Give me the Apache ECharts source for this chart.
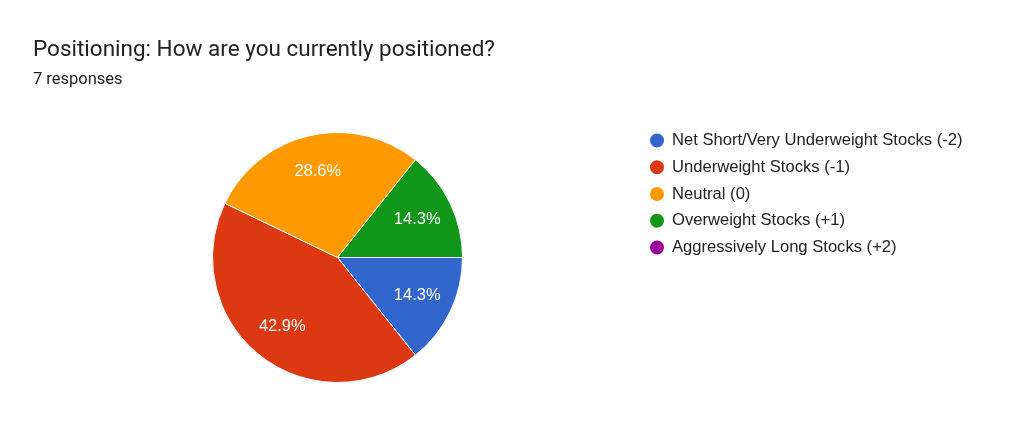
<!DOCTYPE html>
<html>
<head>
<meta charset="utf-8">
<script src="https://cdn.jsdelivr.net/npm/echarts@6/dist/echarts.min.js"></script>
<style>
html,body{margin:0;padding:0;background:#fff;}
#chart{width:1024px;height:431px;}
</style>
</head>
<body>
<div id="chart"></div>
<script>
const chartTitle = 'Positioning: How are you currently positioned?';
const responsesText = '7 responses';
const categories = [
  'Net Short/Very Underweight Stocks (-2)',
  'Underweight Stocks (-1)',
  'Neutral (0)',
  'Overweight Stocks (+1)',
  'Aggressively Long Stocks (+2)'
];
const counts = [1, 3, 2, 1, 0];
const colors = ['#3366cc', '#dc3912', '#ff9900', '#109618', '#990099'];

const total = counts.reduce((a, b) => a + b, 0);
const pieData = categories.map((name, i) => ({ name: name, value: counts[i] }));

const chart = echarts.init(document.getElementById('chart'));
chart.setOption({
  backgroundColor: '#ffffff',
  color: colors,
  animation: false,
  title: [
    {
      text: chartTitle,
      left: 28, top: 34,
      textStyle: { fontFamily: 'Roboto', fontSize: 22.5, fontWeight: 'normal', color: '#202124' }
    },
    {
      text: responsesText,
      left: 28, top: 66,
      textStyle: { fontFamily: 'Roboto', fontSize: 16.5, fontWeight: 'normal', color: '#202124' }
    }
  ],
  legend: {
    orient: 'vertical',
    left: 643, top: 126,
    icon: 'circle',
    itemWidth: 16, itemHeight: 16,
    itemGap: 7.75,
    data: categories,
    textStyle: { fontFamily: 'Arial, Liberation Sans', fontSize: 16.6, lineHeight: 19, color: '#222222', padding: [0, 0, 0, 2] }
  },
  series: [
    {
      type: 'pie',
      center: [337.5, 257.5],
      radius: 125,
      startAngle: 0,
      clockwise: true,
      avoidLabelOverlap: false,
      label: { show: false },
      labelLine: { show: false },
      itemStyle: { borderColor: '#ffffff', borderWidth: 1 },
      emphasis: { disabled: true },
      data: pieData
    },
    {
      type: 'pie',
      center: [337.5, 257.5],
      radius: [46, 125],
      startAngle: 0,
      clockwise: true,
      silent: true,
      avoidLabelOverlap: false,
      itemStyle: { color: 'rgba(0,0,0,0)' },
      emphasis: { disabled: true },
      labelLine: { show: false },
      label: {
        show: true,
        position: 'inside',
        fontFamily: 'Arial, Liberation Sans',
        fontSize: 16.5,
        color: '#ffffff',
        formatter: function (p) {
          if (!p.value) return '';
          return (p.value / total * 100).toFixed(1) + '%';
        }
      },
      data: pieData
    }
  ]
});
</script>
</body>
</html>
